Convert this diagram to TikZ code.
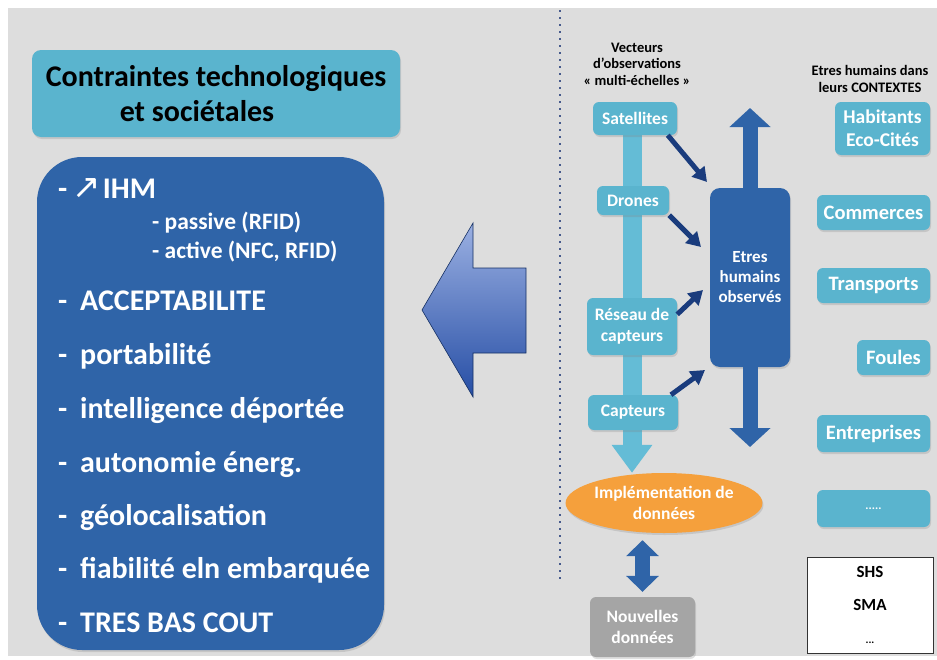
\documentclass[tikz,border=0pt]{standalone}
\usepackage{fontspec}
\setmainfont{Carlito}
\newfontfamily\symf{DejaVu Sans}
\usetikzlibrary{arrows.meta,shapes.geometric,shadows,backgrounds}
\definecolor{bgc}{RGB}{221,221,221}
\definecolor{cyanb}{RGB}{90,180,206}
\definecolor{barc}{RGB}{100,188,214}
\definecolor{darkb}{RGB}{47,100,168}
\definecolor{navy}{RGB}{26,60,125}
\definecolor{orng}{RGB}{245,160,60}
\definecolor{greyb}{RGB}{165,165,165}
\definecolor{dotc}{RGB}{70,90,140}
\definecolor{arrtop}{RGB}{155,176,226}
\definecolor{arrbot}{RGB}{38,78,165}
\tikzset{
  shad/.style={drop shadow={opacity=0.25,shadow xshift=1pt,shadow yshift=-2pt}},
  cbox/.style={rectangle, rounded corners=6pt, fill=cyanb, text=white, align=center,
    inner sep=0pt, font=\bfseries\fontsize{17.5}{20}\selectfont, shad},
  rbox/.style={cbox, font=\bfseries\fontsize{20.5}{23}\selectfont},
  item/.style={anchor=base west, text=white, inner sep=0pt, font=\bfseries\fontsize{30}{33}\selectfont},
  subitem/.style={item, font=\bfseries\fontsize{23.5}{27}\selectfont},
  hdr/.style={align=center, text=black, inner sep=0pt, font=\bfseries\fontsize{14.5}{16.5}\selectfont},
  fat/.style={darkb, line width=15pt, -{Triangle[width=40pt,length=19pt]}},
  fatboth/.style={darkb, line width=15pt, {Triangle[width=32pt,length=16pt]}-{Triangle[width=32pt,length=16pt]}},
  nav/.style={navy, line width=5pt, -{Triangle[width=16pt,length=14pt]}},
}
\begin{document}
\begin{tikzpicture}[x=1pt,y=-1pt]
\useasboundingbox (0,0) rectangle (937,659);
\begin{scope}[on background layer]
\fill[white] (0,0) rectangle (937,659);
\fill[bgc] (8,8) rectangle (937,656);
\end{scope}

% ---------- left part ----------
\node[cbox, text=black, minimum width=368pt, minimum height=87pt, rounded corners=9pt,
  font=\bfseries\fontsize{30}{35}\selectfont] (title) at (216,93.5)
  {Contraintes technologiques\\\hspace*{-38pt}et sociétales};
\node[rectangle, rounded corners=45pt, fill=darkb, minimum width=347pt, minimum height=493pt,
  inner sep=0pt, shad] (list) at (210.5,403.5) {};
\node[item] (i1) at (58,198) {-\hspace{5pt}{\symf\mdseries\fontsize{34}{34}\selectfont ↗}\hspace{2pt}IHM};
\node[subitem] (i1a) at (152,229) {- passive (RFID)};
\node[subitem] (i1b) at (152,258) {- active (NFC, RFID)};
\node[item] (i2) at (58,310) {-\hspace{12.8pt}ACCEPTABILITE};
\node[item] (i3) at (58,364) {-\hspace{12.8pt}portabilité};
\node[item] (i4) at (58,418) {-\hspace{12.8pt}intelligence déportée};
\node[item] (i5) at (58,472) {-\hspace{12.8pt}autonomie énerg.};
\node[item] (i6) at (58,525) {-\hspace{12.8pt}géolocalisation};
\node[item] (i7) at (58,578) {-\hspace{12.8pt}fiabilité eln embarquée};
\node[item] (i8) at (58,632) {-\hspace{12.8pt}TRES BAS COUT};

% big left arrow
\draw[top color=arrtop, bottom color=arrbot, draw=navy!80!black, line width=0.6pt, line join=miter]
  (422,310) -- (473,223) -- (473,268) -- (526,268) -- (526,353) -- (473,353) -- (473,397) -- cycle;

% dotted separator
\draw[dotc, line width=2pt, dash pattern=on 2pt off 5pt] (560,10) -- (560,580);

% ---------- right part ----------
\node[hdr] (h1) at (637,64) {Vecteurs\\d’observations\\« multi-échelles »};
\node[hdr] (h2) at (870,79) {Etres humains dans\\leurs CONTEXTES};

\node[ellipse, fill=orng, text=white, minimum width=178pt, minimum height=60pt, inner sep=0pt,
  align=center, font=\bfseries\fontsize{17.5}{21}\selectfont, shad] (impl) at (664,503)
  {Implémentation de\\données};

\node[cbox, minimum width=84pt, minimum height=33pt] (sat) at (635,118.5) {Satellites};
\node[cbox, minimum width=72pt, minimum height=29pt] (drn) at (633,200.5) {Drones};
\node[cbox, minimum width=90pt, minimum height=57pt, font=\bfseries\fontsize{17.5}{21}\selectfont] (rsx) at (632,326.5) {Réseau de\\capteurs};
\node[cbox, minimum width=90pt, minimum height=35pt] (cap) at (633,412.5) {Capteurs};

\coordinate (barX) at (632,0);
\begin{scope}[on background layer]
  \draw[barc, line width=19pt, -{Triangle[width=39pt,length=28pt]}]
    (sat.center -| barX) -- (impl.north -| barX);
\end{scope}

\node[rectangle, rounded corners=10pt, fill=darkb, text=white, minimum width=80pt, minimum height=179pt,
  inner sep=0pt, align=center, font=\bfseries\fontsize{17}{20}\selectfont, shad] (obs) at (750,277.5)
  {Etres\\humains\\observés};

\coordinate (upT) at (750,108);
\coordinate (dnT) at (750,447);
\draw[fat] (obs.north) -- (upT);
\draw[fat] (obs.south) -- (dnT);

\coordinate (t1) at (707,182);
\coordinate (t2) at (701,247);
\coordinate (t3) at (703,290);
\coordinate (t4) at (705,370);
\draw[nav] (sat.-27) -- (t1);
\draw[nav] (drn.south east) -- (t2);
\draw[nav] (rsx.15) -- (t3);
\draw[nav] (cap.25) -- (t4);

\node[rectangle, rounded corners=6pt, fill=greyb, text=white, minimum width=105pt, minimum height=60pt,
  inner sep=0pt, align=center, font=\bfseries\fontsize{17.5}{21}\selectfont, shad] (nouv) at (642.5,627)
  {Nouvelles\\données};
\draw[fatboth, shorten <=7pt, shorten >=5pt] (impl.south -| nouv.north) -- (nouv.north);

\node[rbox, minimum width=95pt, minimum height=53pt, font=\bfseries\fontsize{19.5}{23}\selectfont] (hab) at (882.5,128.5) {Habitants\\Eco-Cités};
\node[rbox, minimum width=113pt, minimum height=35pt] (com) at (873.5,212.5) {Commerces};
\node[rbox, minimum width=113pt, minimum height=35pt] (tra) at (873.5,285.5) {Transports};
\node[rbox, minimum width=73pt, minimum height=35pt] (fou) at (893.5,357.5) {Foules};
\node[rbox, minimum width=113pt, minimum height=37pt] (ent) at (873.5,433.5) {Entreprises};
\node[rbox, minimum width=113pt, minimum height=37pt, font=\bfseries\fontsize{12}{13}\selectfont] (etc) at (873.5,508.5) {.....};
\node[rectangle, draw=black!80, line width=1pt, fill=white, minimum width=126pt, minimum height=96pt,
  inner sep=0pt, align=center, font=\bfseries\fontsize{17}{33}\selectfont] (shs) at (870,605)
  {SHS\\SMA\\{\fontsize{11}{12}\selectfont ...}};
\end{tikzpicture}
\end{document}
